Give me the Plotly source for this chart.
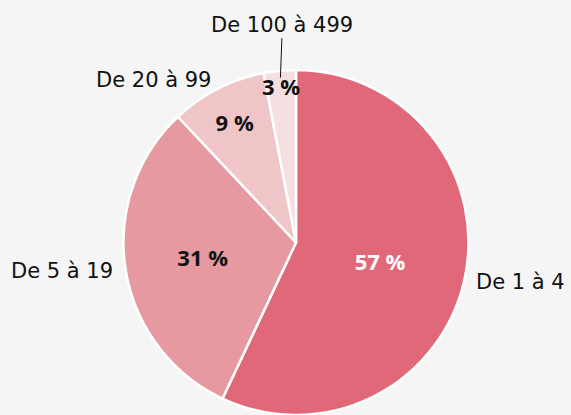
import math
import plotly.graph_objects as go

categories = ["De 1 à 4", "De 5 à 19", "De 20 à 99", "De 100 à 499"]
values = [57, 31, 9, 3]
colors = ["#E16878", "#E799A1", "#EFC5C8", "#F5DFE0"]
pct_colors = ["#ffffff", "#111111", "#111111", "#111111"]

W, H = 571, 415
r = 172.5            # pie radius in px
cx, cy = 296, 242.5  # pie centre in px
dom_x = [(cx - r) / W, (cx + r) / W]
dom_y = [(H - cy - r) / H, (H - cy + r) / H]

LABEL_FONT = "DejaVu Sans"
PCT_FONT = "Open Sans"

fig = go.Figure()
fig.add_trace(go.Pie(
    labels=categories, values=values, sort=False, direction="clockwise", rotation=0,
    marker=dict(colors=colors, line=dict(color="white", width=2.5)),
    texttemplate="<b>%{value} %</b>", textposition="inside", insidetextorientation="horizontal",
    textfont=dict(family=PCT_FONT, size=22, color=pct_colors),
    domain=dict(x=dom_x, y=dom_y), showlegend=False, hoverinfo="label+value",
))

# category labels placed outside, at each slice's mid angle
total = sum(values)
cum = 0
annotations = []
for lab, v in zip(categories, values):
    mid = (cum + v / 2) / total * 2 * math.pi
    cum += v
    s, c = math.sin(mid), math.cos(mid)
    if v / total < 0.05:
        # small slice: label above with a leader line
        px = cx + 0.96 * r * s
        py = cy - 0.96 * r * c
        annotations.append(dict(
            x=px / W, y=1 - py / H, xref="paper", yref="paper",
            text=lab, showarrow=True, arrowhead=0, arrowwidth=1, arrowcolor="#111111",
            ax=2, ay=-53, standoff=0,
            font=dict(family=LABEL_FONT, size=21, color="#111111"),
        ))
    else:
        px = cx + 1.06 * r * s
        py = cy - 1.06 * r * c
        annotations.append(dict(
            x=px / W, y=1 - py / H, xref="paper", yref="paper",
            text=lab, showarrow=False,
            xanchor="left" if s > 0 else "right", yanchor="middle",
            font=dict(family=LABEL_FONT, size=21, color="#111111"),
        ))

fig.update_layout(
    width=W, height=H, margin=dict(l=0, r=0, t=0, b=0),
    paper_bgcolor="#f5f5f5", plot_bgcolor="#f5f5f5",
    annotations=annotations,
    uniformtext=dict(minsize=22, mode="show"),
)
fig.write_html("out.html", config={"displayModeBar": False},
               post_script="document.body.style.margin='0';")
